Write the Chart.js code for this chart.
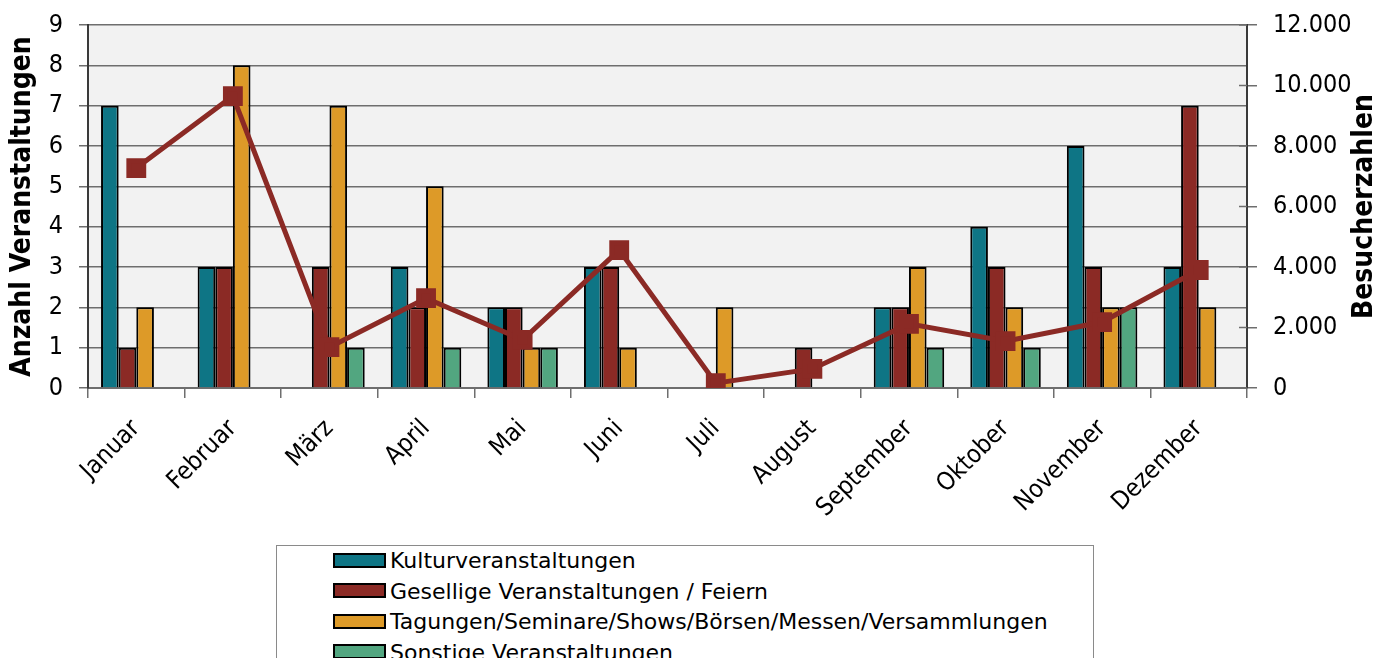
<!DOCTYPE html>
<html>
<head>
<meta charset="utf-8">
<script src="https://cdn.jsdelivr.net/npm/chart.js@4"></script>
<style>
    body { margin: 0; background: #fff; overflow: hidden; }
    #wrap { position: relative; width: 1378px; height: 658px; overflow: hidden; }
    #legend {
        position: absolute; left: 276px; top: 545px; width: 816px; height: 170px;
        border: 1px solid #8a8a8a; background: #fff;
        font-family: "DejaVu Sans", sans-serif; font-size: 22px; color: #000;
    }
    .item { position: absolute; left: 56px; height: 30px; line-height: 30px; white-space: nowrap; }
    .swatch { display: inline-block; width: 49px; height: 11px; border: 2px solid #000; vertical-align: middle; margin-right: 4px; position: relative; top: -2px; }
</style>
</head>
<body>
<div id="wrap">
    <canvas id="chart" width="1378" height="658"></canvas>
    <div id="legend"></div>
</div>
<script>
const months = ["Januar", "Februar", "März", "April", "Mai", "Juni", "Juli", "August", "September", "Oktober", "November", "Dezember"];
const kultur = [7, 3, 0, 3, 2, 3, 0, 0, 2, 4, 6, 3];
const gesellig = [1, 3, 3, 2, 2, 3, 0, 1, 2, 3, 3, 7];
const tagungen = [2, 8, 7, 5, 1, 1, 2, 0, 3, 2, 2, 2];
const sonstige = [0, 0, 1, 1, 1, 0, 0, 0, 1, 1, 2, 0];
const besucher = [7270, 9650, 1350, 2970, 1590, 4560, 160, 630, 2120, 1550, 2180, 3900];

const FONT = '"DejaVu Sans Condensed", "DejaVu Sans", sans-serif';

// grey plot background
const plotBg = {
    id: "plotBg",
    beforeDraw(chart) {
        const { ctx, chartArea: a } = chart;
        ctx.save();
        ctx.fillStyle = "#f2f2f2";
        ctx.fillRect(a.left, a.top, a.right - a.left, a.bottom - a.top);
        ctx.restore();
    }
};

// right axis: title reads bottom to top, tick marks also point inward
const rightAxisExtras = {
    id: "rightAxisExtras",
    afterDraw(chart) {
        const { ctx, chartArea: a } = chart;
        const s = chart.scales.y2;
        ctx.save();
        ctx.strokeStyle = "#6e6e6e";
        ctx.lineWidth = 1.5;
        s.ticks.forEach((t) => {
            const y = s.getPixelForValue(t.value);
            ctx.beginPath();
            ctx.moveTo(a.right - 8, y);
            ctx.lineTo(a.right, y);
            ctx.stroke();
        });
        ctx.translate(1365, (a.top + a.bottom) / 2);
        ctx.rotate(-Math.PI / 2);
        ctx.font = "bold 28px " + FONT;
        ctx.fillStyle = "#000";
        ctx.textAlign = "center";
        ctx.textBaseline = "middle";
        ctx.fillText("Besucherzahlen", 0, 0);
        ctx.restore();
    }
};

function barSet(label, data, color) {
    return {
        type: "bar", label, data, backgroundColor: color, borderColor: "#000",
        borderWidth: 2, yAxisID: "y", order: 1,
        categoryPercentage: 0.73, barPercentage: 1.0
    };
}

// keep the y axes from pushing the plot area down
function fixY(width) {
    return (scale) => {
        scale.width = width;
        scale.paddingTop = 0;
        scale.paddingBottom = 0;
    };
}

const ctx = document.getElementById("chart").getContext("2d");
const myChart = new Chart(ctx, {
    data: {
        labels: months,
        datasets: [
            barSet("Kulturveranstaltungen", kultur, "#0e7585"),
            barSet("Gesellige Veranstaltungen / Feiern", gesellig, "#8b2a25"),
            barSet("Tagungen/Seminare/Shows/Börsen/Messen/Versammlungen", tagungen, "#dd9a28"),
            barSet("Sonstige Veranstaltungen", sonstige, "#52a680"),
            {
                type: "line", label: "Besucherzahlen", data: besucher, yAxisID: "y2", order: 0,
                borderColor: "#8b2a25", backgroundColor: "#8b2a25", borderWidth: 5,
                pointStyle: "rect", pointRadius: 10.5, pointHoverRadius: 10.5, tension: 0
            }
        ]
    },
    options: {
        responsive: false,
        animation: false,
        events: [],
        layout: { padding: { top: 25, left: 0, right: 0, bottom: 0 } },
        plugins: { legend: { display: false }, tooltip: { enabled: false } },
        scales: {
            x: {
                offset: true,
                grid: { offset: true, drawOnChartArea: false, color: "#6e6e6e", tickLength: 10, lineWidth: 1.5 },
                border: { color: "#6e6e6e", width: 2 },
                ticks: { minRotation: 45, maxRotation: 45, color: "#000", font: { family: FONT, size: 25 }, padding: 16 },
                afterFit(scale) { scale.height = 270; }
            },
            y: {
                position: "left", min: 0, max: 9,
                ticks: { stepSize: 1, color: "#000", font: { family: FONT, size: 25 }, padding: 16 },
                grid: { color: "#6e6e6e", lineWidth: 1.5, tickLength: 9 },
                border: { color: "#3a3a3a", width: 2 },
                title: { display: true, text: "Anzahl Veranstaltungen", color: "#000", font: { family: FONT, size: 28, weight: "bold" }, padding: { top: 6, bottom: 0 } },
                afterFit: fixY(88)
            },
            y2: {
                position: "right", min: 0, max: 12000,
                ticks: {
                    stepSize: 2000, color: "#000", font: { family: FONT, size: 25 }, padding: 16,
                    callback: (v) => v.toLocaleString("de-DE")
                },
                grid: { drawOnChartArea: false, color: "#6e6e6e", lineWidth: 1.5, tickLength: 10 },
                border: { color: "#3a3a3a", width: 2 },
                afterFit: fixY(131)
            }
        }
    },
    plugins: [plotBg, rightAxisExtras]
});

// legend box below the chart
const legend = document.getElementById("legend");
myChart.data.datasets.forEach((ds, i) => {
    const item = document.createElement("div");
    item.className = "item";
    item.style.top = (i * 30.5) + "px";
    const sw = document.createElement("span");
    sw.className = "swatch";
    sw.style.background = ds.backgroundColor;
    if (ds.type === "line") { sw.style.border = "none"; sw.style.height = "5px"; }
    item.appendChild(sw);
    item.appendChild(document.createTextNode(ds.label));
    legend.appendChild(item);
});
</script>
</body>
</html>
